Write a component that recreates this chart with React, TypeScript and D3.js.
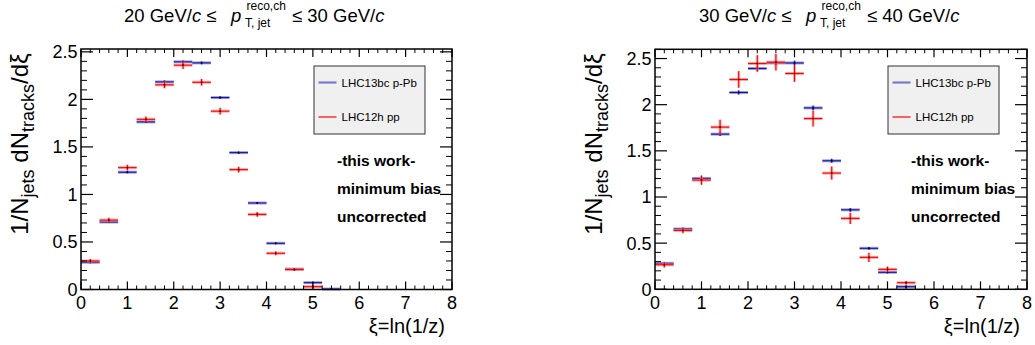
import React from "react";
import * as d3 from "d3";

// ξ bin centres (bin width 0.4)
const XI_BINS = [0.2, 0.6, 1.0, 1.4, 1.8, 2.2, 2.6, 3.0, 3.4, 3.8, 4.2, 4.6, 5.0, 5.4];
const BIN_WIDTH = 0.4;

// 20–30 GeV/c jets
const LOW_PPB = [0.286, 0.71, 1.234, 1.763, 2.184, 2.395, 2.384, 2.019, 1.44, 0.91, 0.486, 0.215, 0.072, 0.005];
const LOW_PPB_ERR = [0.01, 0.01, 0.012, 0.012, 0.015, 0.015, 0.015, 0.015, 0.012, 0.01, 0.01, 0.008, 0.006, 0.004];
const LOW_PP = [0.3, 0.73, 1.282, 1.79, 2.153, 2.36, 2.18, 1.876, 1.261, 0.79, 0.381, 0.21, 0.03, null];
const LOW_PP_ERR = [0.02, 0.025, 0.03, 0.03, 0.035, 0.04, 0.035, 0.035, 0.03, 0.025, 0.02, 0.015, 0.02, null];

// 30–40 GeV/c jets
const HIGH_PPB = [0.281, 0.653, 1.201, 1.681, 2.132, 2.392, 2.452, 2.452, 1.965, 1.392, 0.861, 0.444, 0.184, 0.028];
const HIGH_PPB_ERR = [0.012, 0.015, 0.018, 0.02, 0.022, 0.025, 0.025, 0.025, 0.025, 0.022, 0.02, 0.015, 0.012, 0.01];
const HIGH_PP = [0.266, 0.638, 1.183, 1.757, 2.273, 2.446, 2.46, 2.338, 1.85, 1.259, 0.768, 0.346, 0.216, 0.071];
const HIGH_PP_ERR = [0.03, 0.03, 0.05, 0.08, 0.09, 0.09, 0.09, 0.09, 0.085, 0.07, 0.06, 0.05, 0.03, 0.02];

const X_TICKS = [0, 1, 2, 3, 4, 5, 6, 7, 8];
const Y_TICKS = [0, 0.5, 1, 1.5, 2, 2.5];
const Y_TICK_LABELS = ["0", "0.5", "1", "1.5", "2", "2.5"];

const SERIES_NAMES = ["LHC13bc p-Pb", "LHC12h pp"];
const NOTE_LINES = ["-this work-", "minimum bias", "uncorrected"];

const FONT = "'Liberation Sans', Arial, Helvetica, sans-serif";
const PPB_DARK = "#1414a0";
const PPB_LIGHT = "#7878cc";
const PP_DARK = "#ff0000";
const PP_LIGHT = "#ff8585";

type PanelProps = {
  x0: number;
  x1: number;
  yBottom: number;
  yTop: number;
  yMax: number;
  titleX: number;
  ptLow: number;
  ptHigh: number;
  ppb: number[];
  ppbErr: number[];
  pp: (number | null)[];
  ppErr: (number | null)[];
};

function Series({
  values,
  errors,
  x,
  y,
  dark,
  light,
}: {
  values: (number | null)[];
  errors: (number | null)[];
  x: d3.ScaleLinear<number, number>;
  y: d3.ScaleLinear<number, number>;
  dark: string;
  light: string;
}) {
  return (
    <g>
      {XI_BINS.map((c, i) => {
        const v = values[i];
        if (v == null) return null;
        const e = errors[i] ?? 0;
        const xl = x(c - BIN_WIDTH / 2);
        const xr = x(c + BIN_WIDTH / 2);
        const yv = y(v);
        return (
          <g key={i}>
            <line x1={xl} x2={xr} y1={yv} y2={yv} stroke={light} strokeWidth={3} opacity={0.7} />
            <line x1={x(c)} x2={x(c)} y1={y(v - e)} y2={y(v + e)} stroke={light} strokeWidth={3} opacity={0.6} />
            <line x1={xl} x2={xr} y1={yv} y2={yv} stroke={dark} strokeWidth={1.1} />
            <line x1={x(c)} x2={x(c)} y1={y(v - e)} y2={y(v + e)} stroke={dark} strokeWidth={1.1} />
            <rect x={x(c) - 0.8} y={yv - 0.8} width={1.6} height={1.6} fill="#000" opacity={0.8} />
          </g>
        );
      })}
    </g>
  );
}

function Title({ x0, ptLow, ptHigh }: { x0: number; ptLow: number; ptHigh: number }) {
  const fs = 18.5;
  return (
    <g fill="#000">
      <text x={x0} y={22} fontSize={fs}>
        <tspan>{`${ptLow} GeV/`}</tspan>
        <tspan fontStyle="italic">c</tspan>
        <tspan>{" \u2264"}</tspan>
      </text>
      <text x={x0 + 107} y={22} fontSize={fs} fontStyle="italic">p</text>
      <text x={x0 + 122.5} y={9.5} fontSize={12}>reco,ch</text>
      <text x={x0 + 121} y={27} fontSize={12}>T, jet</text>
      <text x={x0 + 168} y={22} fontSize={fs}>
        <tspan>{`\u2264 ${ptHigh} GeV/`}</tspan>
        <tspan fontStyle="italic">c</tspan>
      </text>
    </g>
  );
}

function Panel(p: PanelProps) {
  const x = d3.scaleLinear().domain([0, 8]).range([p.x0, p.x1]);
  const y = d3.scaleLinear().domain([0, p.yMax]).range([p.yBottom, p.yTop]);
  const xMinor = d3.range(0, 8.0001, 0.2).filter((t) => Math.abs(t - Math.round(t)) > 1e-6);
  const yMinor = d3
    .range(0, p.yMax + 1e-6, 0.1)
    .filter((t) => Math.abs(t * 2 - Math.round(t * 2)) > 1e-6);

  // legend / annotation anchors relative to the frame
  const legX = p.x0 + 233;
  const legY = 66;
  const legW = 111;
  const legH = 68;
  const noteX = p.x0 + 256;

  return (
    <g fontFamily={FONT}>
      <Title x0={p.titleX} ptLow={p.ptLow} ptHigh={p.ptHigh} />

      {/* data */}
      <Series values={p.ppb} errors={p.ppbErr} x={x} y={y} dark={PPB_DARK} light={PPB_LIGHT} />
      <Series values={p.pp} errors={p.ppErr} x={x} y={y} dark={PP_DARK} light={PP_LIGHT} />

      {/* frame */}
      <rect x={p.x0} y={p.yTop} width={p.x1 - p.x0} height={p.yBottom - p.yTop} fill="none" stroke="#000" strokeWidth={1.5} />

      {/* x ticks, bottom and top */}
      {X_TICKS.map((t) => (
        <g key={`xm${t}`}>
          <line x1={x(t)} x2={x(t)} y1={p.yBottom} y2={p.yBottom - 8} stroke="#000" strokeWidth={1.2} />
          <line x1={x(t)} x2={x(t)} y1={p.yTop} y2={p.yTop + 8} stroke="#000" strokeWidth={1.2} />
          <text x={x(t)} y={p.yBottom + 19.5} fontSize={18} textAnchor="middle">{t}</text>
        </g>
      ))}
      {xMinor.map((t, i) => (
        <g key={`xn${i}`}>
          <line x1={x(t)} x2={x(t)} y1={p.yBottom} y2={p.yBottom - 4} stroke="#000" strokeWidth={1} />
          <line x1={x(t)} x2={x(t)} y1={p.yTop} y2={p.yTop + 4} stroke="#000" strokeWidth={1} />
        </g>
      ))}

      {/* y ticks, left and right */}
      {Y_TICKS.map((t, i) => (
        <g key={`ym${t}`}>
          <line x1={p.x0} x2={p.x0 + 12} y1={y(t)} y2={y(t)} stroke="#000" strokeWidth={1.2} />
          <line x1={p.x1} x2={p.x1 - 12} y1={y(t)} y2={y(t)} stroke="#000" strokeWidth={1.2} />
          <text x={p.x0 - 3.5} y={y(t) + 6.5} fontSize={18} textAnchor="end">{Y_TICK_LABELS[i]}</text>
        </g>
      ))}
      {yMinor.map((t, i) => (
        <g key={`yn${i}`}>
          <line x1={p.x0} x2={p.x0 + 6} y1={y(t)} y2={y(t)} stroke="#000" strokeWidth={1} />
          <line x1={p.x1} x2={p.x1 - 6} y1={y(t)} y2={y(t)} stroke="#000" strokeWidth={1} />
        </g>
      ))}

      {/* axis titles */}
      <text x={p.x1 - 7} y={333} fontSize={20} textAnchor="end">ξ=ln(1/z)</text>
      <text
        transform={`translate(${p.x0 - 53},144) rotate(-90)`}
        fontSize={24}
        textAnchor="middle"
      >
        <tspan>1/N</tspan>
        <tspan fontSize={18} dy={6}>jets</tspan>
        <tspan dy={-6}>{" dN"}</tspan>
        <tspan fontSize={18} dy={6}>tracks</tspan>
        <tspan dy={-6}>/dξ</tspan>
      </text>

      {/* legend */}
      <rect x={legX} y={legY} width={legW} height={legH} fill="#f0f0f0" stroke="#333" strokeWidth={1} />
      <line x1={legX + 4.5} x2={legX + 22.5} y1={legY + 16.5} y2={legY + 16.5} stroke={PPB_LIGHT} strokeWidth={2.2} />
      <line x1={legX + 4.5} x2={legX + 22.5} y1={legY + 51} y2={legY + 51} stroke={PP_DARK} strokeWidth={1.2} />
      <text x={legX + 27.5} y={legY + 20.5} fontSize={11.5}>{SERIES_NAMES[0]}</text>
      <text x={legX + 27.5} y={legY + 55} fontSize={11.5}>{SERIES_NAMES[1]}</text>

      {/* annotation */}
      {NOTE_LINES.map((s, i) => (
        <text key={s} x={noteX} y={166 + i * 28.2} fontSize={15.5} fontWeight="bold">{s}</text>
      ))}
    </g>
  );
}

export default function App() {
  return (
    <svg
      width={1035}
      height={345}
      viewBox="0 0 1035 345"
      style={{ position: "absolute", left: 0, top: 0, background: "#fff" }}
    >
      <rect width={1035} height={345} fill="#fff" />
      <Panel
        x0={81}
        x1={452}
        yBottom={289.5}
        yTop={49}
        yMax={2.53}
        titleX={124}
        ptLow={20}
        ptHigh={30}
        ppb={LOW_PPB}
        ppbErr={LOW_PPB_ERR}
        pp={LOW_PP}
        ppErr={LOW_PP_ERR}
      />
      <Panel
        x0={655}
        x1={1027}
        yBottom={289.3}
        yTop={49.3}
        yMax={2.6}
        titleX={699}
        ptLow={30}
        ptHigh={40}
        ppb={HIGH_PPB}
        ppbErr={HIGH_PPB_ERR}
        pp={HIGH_PP}
        ppErr={HIGH_PP_ERR}
      />
    </svg>
  );
}
